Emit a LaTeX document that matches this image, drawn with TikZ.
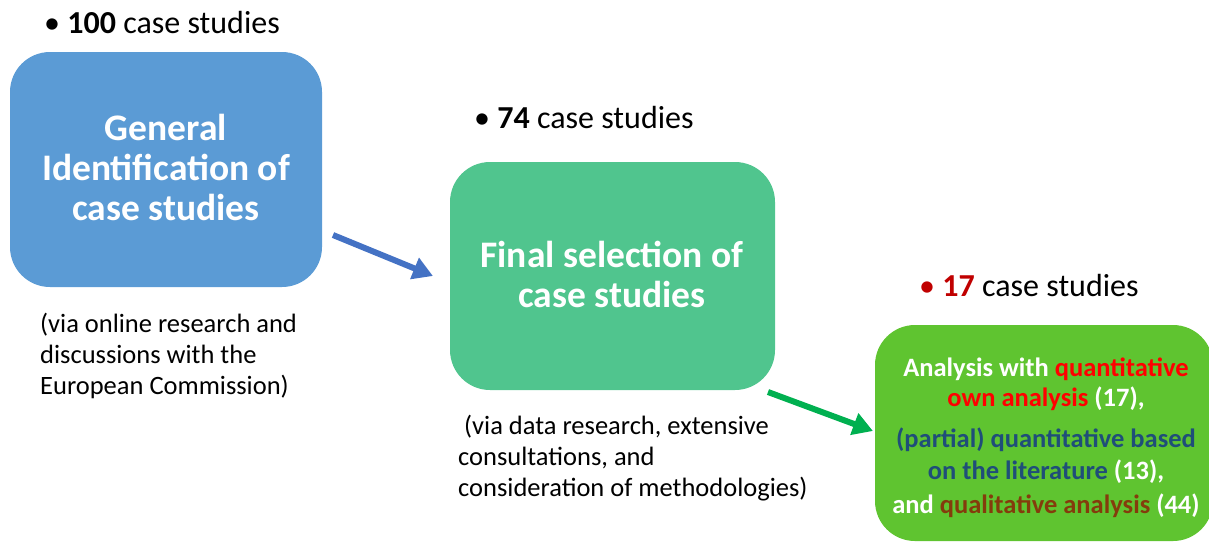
\documentclass[tikz,border=0pt]{standalone}
\usepackage{fontspec}
\setmainfont{Carlito}
\usetikzlibrary{arrows.meta}
\definecolor{boxblue}{RGB}{91,155,213}
\definecolor{boxteal}{RGB}{80,197,142}
\definecolor{boxgreen}{RGB}{95,196,48}
\definecolor{arrblue}{RGB}{68,114,196}
\definecolor{arrgreen}{RGB}{0,176,80}
\definecolor{txtred}{RGB}{255,0,0}
\definecolor{txtdarkred}{RGB}{192,0,0}
\definecolor{txtblue}{RGB}{31,78,121}
\definecolor{txtbrown}{RGB}{132,60,12}
\tikzset{
  stagebox/.style={inner sep=0pt, text=white,
    font=\fontsize{37.5}{40}\selectfont\bfseries, align=center},
  countlabel/.style={anchor=west, inner sep=0pt, font=\fontsize{32}{36}\selectfont},
  notelabel/.style={anchor=north west, inner sep=0pt, align=left,
    font=\fontsize{26.5}{31}\selectfont},
  flowarrow/.style={line width=6pt, -{Triangle[length=20pt,width=22pt]}},
}
\begin{document}
\begin{tikzpicture}[x=1pt,y=-1pt]
\useasboundingbox (0,0) rectangle (1209,542);
\clip (0,0) rectangle (1209,542);
% boxes
\fill[boxblue, rounded corners=40pt] (10,52) rectangle (322,287);
\node[stagebox] (b1) at (166,167) {General\\Identification of\\case studies};
\fill[boxteal, rounded corners=40pt] (450,162) rectangle (775,390);
\node[stagebox] (b2) at (612,274) {Final selection of\\case studies};
\fill[boxgreen, rounded corners=40pt] (875,325) rectangle (1213,541);
\node[inner sep=0pt, align=center, text=white, font=\fontsize{26.5}{30}\selectfont\bfseries] (b3) at (1046,438)
  {Analysis with \textcolor{txtred}{quantitative}\\
   \textcolor{txtred}{own analysis} (17),\\[11pt]
   \textcolor{txtblue}{(partial) quantitative based}\\[2pt]
   \textcolor{txtblue}{on the literature} (13),\\[4pt]
   and \textcolor{txtbrown}{qualitative analysis} (44)};
% count labels
\node[countlabel] (c1) at (44,23) {\textbullet\ \textbf{100} case studies};
\node[countlabel] (c2) at (474,118) {\textbullet\ \textbf{74} case studies};
\node[countlabel] (c3) at (919,285) {\textcolor{txtdarkred}{\textbullet\ \textbf{17}} case studies};
% notes
\node[notelabel] (n1) at (40,313) {(via online research and\\discussions with the\\European Commission)};
\node[notelabel] (n2) at (458,415) {\ (via data research, extensive\\consultations, and\\consideration of methodologies)};
% arrows
\coordinate (a1s) at (333,235);
\coordinate (a1e) at (433,276);
\coordinate (a2s) at (768,392);
\coordinate (a2e) at (873,431);
\draw[flowarrow, arrblue] (a1s) -- (a1e);
\draw[flowarrow, arrgreen] (a2s) -- (a2e);
\end{tikzpicture}
\end{document}
